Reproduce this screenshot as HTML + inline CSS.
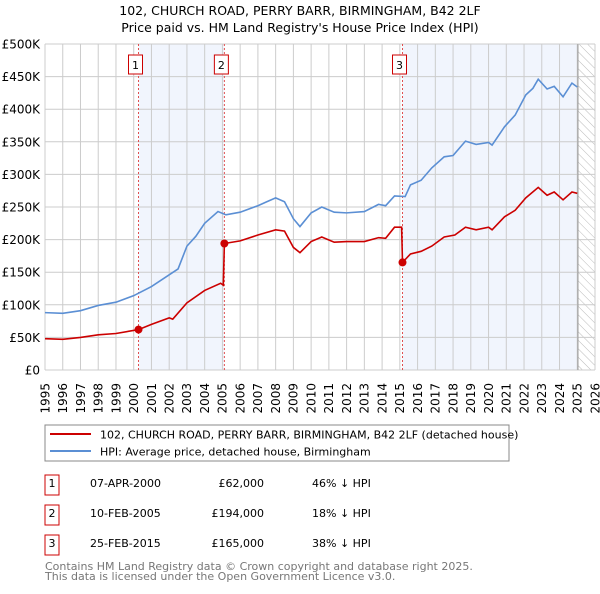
<!DOCTYPE html>
<html><head><meta charset="utf-8"><style>
body{margin:0;background:#fff;font-family:"DejaVu Sans","Liberation Sans",sans-serif;}
svg text{font-family:"DejaVu Sans","Liberation Sans",sans-serif;}
</style></head><body>
<svg id="chart" width="600" height="590" xmlns="http://www.w3.org/2000/svg">
<defs><pattern id="hatch" width="6" height="6" patternUnits="userSpaceOnUse" patternTransform="rotate(-45)"><line x1="0" y1="0" x2="0" y2="6" stroke="#bbb" stroke-width="1"/></pattern></defs>
<text x="300" y="15" text-anchor="middle" font-size="12.5" fill="#000">102, CHURCH ROAD, PERRY BARR, BIRMINGHAM, B42 2LF</text>
<text x="300" y="32" text-anchor="middle" font-size="12.5" fill="#000">Price paid vs. HM Land Registry's House Price Index (HPI)</text>
<g id="bg"></g><g id="grid"></g><g id="axes"></g><g id="series"></g><g id="marks"></g>
<rect x="45" y="425" width="464" height="36" fill="#fff" stroke="#888"/>
<line x1="50" y1="434" x2="91" y2="434" stroke="#cc0000" stroke-width="2"/>
<text x="100" y="438.5" font-size="11">102, CHURCH ROAD, PERRY BARR, BIRMINGHAM, B42 2LF (detached house)</text>
<line x1="50" y1="451" x2="91" y2="451" stroke="#5b8fd4" stroke-width="2"/>
<text x="100" y="455.5" font-size="11">HPI: Average price, detached house, Birmingham</text>
<g id="table" font-size="11"></g>
<text x="45" y="570" font-size="11" fill="#777">Contains HM Land Registry data © Crown copyright and database right 2025.</text>
<text x="45" y="580" font-size="11" fill="#777">This data is licensed under the Open Government Licence v3.0.</text>
</svg>
<script>
const yTicks=[0,50000,100000,150000,200000,250000,300000,350000,400000,450000,500000];
const yTickLabels=["£0","£50K","£100K","£150K","£200K","£250K","£300K","£350K","£400K","£450K","£500K"];
const xYears=[1995,1996,1997,1998,1999,2000,2001,2002,2003,2004,2005,2006,2007,2008,2009,2010,2011,2012,2013,2014,2015,2016,2017,2018,2019,2020,2021,2022,2023,2024,2025,2026];
const hpiT=[1995,1996,1997,1998,1999,2000,2001,2002,2002.5,2003,2003.5,2004,2004.75,2005.2,2006,2007,2007.5,2008,2008.5,2009,2009.37,2010,2010.6,2011.3,2012,2013,2013.8,2014.2,2014.7,2015.3,2015.6,2016.2,2016.8,2017.5,2018,2018.7,2019.3,2020,2020.2,2020.9,2021.5,2022.1,2022.5,2022.8,2023.3,2023.7,2024.2,2024.7,2025];
const hpiV=[88000,87000,91000,99000,104000,114000,128000,146000,155000,190000,205000,225000,243000,238000,242000,252000,258000,264000,258000,232000,220000,241000,250000,242000,241000,243000,254000,252000,267000,266000,284000,291000,310000,327000,329000,351000,346000,349000,345000,373000,391000,422000,432000,446000,431000,435000,419000,440000,434000];
const priceT=[1995,1996,1997,1998,1999,2000.27,2001,2002,2002.2,2003,2004,2004.9,2005.05,2005.11,2006,2007,2008,2008.5,2009,2009.37,2010,2010.6,2011.3,2012,2013,2013.8,2014.2,2014.7,2015.1,2015.15,2015.6,2016.2,2016.8,2017.5,2018.1,2018.7,2019.3,2020,2020.2,2020.9,2021.5,2022.1,2022.8,2023.3,2023.7,2024.2,2024.7,2025];
const priceV=[48000,47000,50000,54000,56000,62000,70000,80000,78000,103000,122000,133000,130000,194000,198000,207000,215000,213000,188000,180000,197000,204000,196000,197000,197000,203000,202000,219000,219000,165000,178000,182000,190000,204000,207000,219000,215000,219000,215000,235000,245000,264000,280000,268000,273000,261000,273000,271000];
const saleT=[2000.27,2005.11,2015.15];
const saleV=[62000,194000,165000];
const saleLabels=["1","2","3"];
const saleDates=["07-APR-2000","10-FEB-2005","25-FEB-2015"];
const salePrices=["£62,000","£194,000","£165,000"];
const saleDiffs=["46% ↓ HPI","18% ↓ HPI","38% ↓ HPI"];
const dataEnd=2025.04;

const NS="http://www.w3.org/2000/svg";
const X0=45,X1=595,Y0=370,Y1=44;
const xs=t=>X0+(t-1995)/(2026-1995)*(X1-X0);
const ys=v=>Y0-v/500000*(Y0-Y1);
function mk(tag,attrs,parent,txt){const e=document.createElementNS(NS,tag);for(const k in attrs)e.setAttribute(k,attrs[k]);if(txt!==undefined)e.textContent=txt;document.getElementById(parent).appendChild(e);return e;}
let e;
e=mk('rect',{x:X0,y:Y1,width:X1-X0,height:Y0-Y1,fill:'#fff'},'bg');


e=mk('rect',{x:xs(saleT[0]),y:Y1,width:xs(saleT[1])-xs(saleT[0]),height:Y0-Y1,fill:'#eef3fc',opacity:0.8},'bg');


e=mk('rect',{x:xs(saleT[2]),y:Y1,width:xs(dataEnd)-xs(saleT[2]),height:Y0-Y1,fill:'#eef3fc',opacity:0.8},'bg');


e=mk('rect',{x:xs(dataEnd),y:Y1,width:X1-xs(dataEnd),height:Y0-Y1,fill:'url(#hatch)'},'bg');


yTicks.forEach((v,i)=>{
 e=mk('line',{x1:X0,x2:X1,y1:ys(v),y2:ys(v),stroke:'#ccc','stroke-width':1},'grid');
 
 
 e=mk('text',{x:40,y:ys(v)+4.5,'text-anchor':'end','font-size':12},'axes',yTickLabels[i]);
 
 
});
xYears.forEach((yr,i)=>{
 e=mk('line',{x1:xs(yr),x2:xs(yr),y1:Y1,y2:Y0,stroke:'#ccc','stroke-width':1},'grid');
 
 
 const tx=xs(yr)+4.3;
 e=mk('text',{x:tx,y:383,'text-anchor':'end','font-size':12,transform:'rotate(-90 '+tx+' 383)'},'axes',String(yr));
 
 
});
e=mk('line',{x1:xs(dataEnd),x2:xs(dataEnd),y1:Y1,y2:Y0,stroke:'#999','stroke-width':1},'grid');


saleT.forEach((t,i)=>{
 e=mk('line',{x1:xs(t),x2:xs(t),y1:Y1,y2:Y0,stroke:'#e05050','stroke-width':1,'stroke-dasharray':'2,2'},'grid');
 
 
});
e=mk('polyline',{points:hpiT.map((t,i)=>xs(t)+','+ys(hpiV[i])).join(' '),fill:'none',stroke:'#5b8fd4','stroke-width':1.6},'series');


e=mk('polyline',{points:priceT.map((t,i)=>xs(t)+','+ys(priceV[i])).join(' '),fill:'none',stroke:'#cc0000','stroke-width':1.6},'series');


saleT.forEach((t,i)=>{
 e=mk('circle',{cx:xs(t),cy:ys(saleV[i]),r:4,fill:'#cc0000'},'marks');
 
 
 const bx=xs(t)-3;
 e=mk('rect',{x:bx-7,y:55,width:14,height:19,fill:'#fff',stroke:'#cc0000'},'marks');
 
 
 e=mk('text',{x:bx,y:69,'text-anchor':'middle','font-size':11},'marks',saleLabels[i]);
 
 
 const ry=485+i*30;
 e=mk('rect',{x:45,y:ry-10,width:14,height:20,fill:'#fff',stroke:'#cc0000'},'table');
 
 
 e=mk('text',{x:52,y:ry+2,'text-anchor':'middle'},'table',saleLabels[i]);
 
 
 e=mk('text',{x:90,y:ry+2},'table',saleDates[i]);
 
 
 e=mk('text',{x:264,y:ry+2,'text-anchor':'end'},'table',salePrices[i]);
 
 
 e=mk('text',{x:312,y:ry+2},'table',saleDiffs[i]);
 
 
});
</script>
</body></html>
